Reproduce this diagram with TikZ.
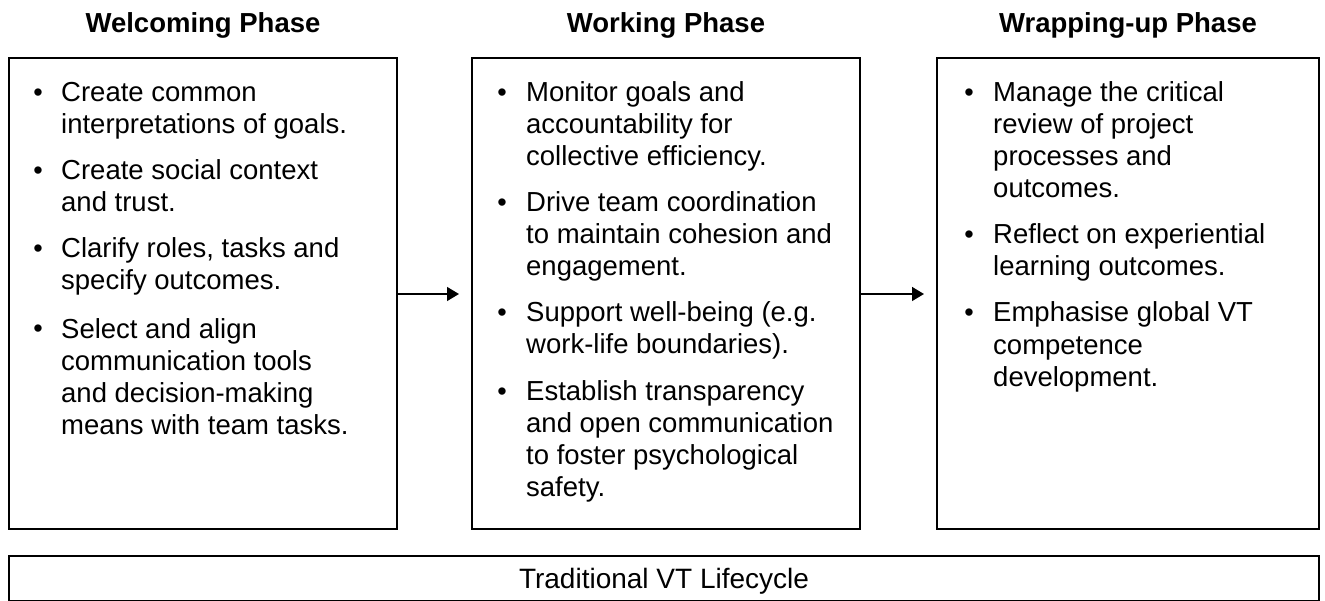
\documentclass[tikz,border=0pt]{standalone}
\usepackage{fontspec}
\setmainfont{Liberation Sans}
\usetikzlibrary{arrows.meta}
\begin{document}
\begin{tikzpicture}[x=1pt,y=-1pt,
  phasebox/.style={draw=black,line width=1.5pt},
  title/.style={font=\fontsize{27.5}{32}\selectfont\bfseries,anchor=base,inner sep=0pt},
  itemtext/.style={font=\fontsize{27.5}{32}\selectfont,anchor=base west,align=left,inner sep=0pt},
  bul/.style={font=\fontsize{27}{32}\selectfont,anchor=base,inner sep=0pt},
  flow/.style={line width=1.5pt,-{Triangle[length=12pt,width=14pt]}}]
\useasboundingbox (0,0) rectangle (1325,601);
% titles
\node[title] (t1) at (203,33) {Welcoming Phase};
\node[title] (t2) at (666,33) {Working Phase};
\node[title] (t3) at (1128,33) {Wrapping-up Phase};
% boxes
\draw[phasebox] (9,58) rectangle (397,529);
\draw[phasebox] (472,58) rectangle (860,529);
\draw[phasebox] (937,58) rectangle (1319,529);
\coordinate (b1e) at (397,294);
\coordinate (b2w) at (472,294);
\coordinate (b2e) at (860,294);
\coordinate (b3w) at (937,294);
\draw[flow] (b1e) -- ([xshift=-13pt]b2w);
\draw[flow] (b2e) -- ([xshift=-13pt]b3w);
% box 1 (base = last line's baseline)
\node[bul] (p1) at (38,102) {•};
\node[itemtext] (w1) at (61,134) {Create common\\interpretations of goals.};
\node[bul] (p2) at (38,180) {•};
\node[itemtext] (w2) at (61,212) {Create social context\\and trust.};
\node[bul] (p3) at (38,258) {•};
\node[itemtext] (w3) at (61,290) {Clarify roles, tasks and\\specify outcomes.};
\node[bul] (p4) at (38,338) {•};
\node[itemtext] (w4) at (61,434) {Select and align\\communication tools\\and decision-making\\means with team tasks.};
% box 2
\node[bul] (q1) at (502,102) {•};
\node[itemtext] (k1) at (526,166) {Monitor goals and\\accountability for\\collective efficiency.};
\node[bul] (q2) at (502,212) {•};
\node[itemtext] (k2) at (526,276) {Drive team coordination\\to maintain cohesion and\\engagement.};
\node[bul] (q3) at (502,322) {•};
\node[itemtext] (k3) at (526,354) {Support well-being (e.g.\\work-life boundaries).};
\node[bul] (q4) at (502,400) {•};
\node[itemtext] (k4) at (526,496) {Establish transparency\\and open communication\\to foster psychological\\safety.};
% box 3
\node[bul] (r1) at (969,102) {•};
\node[itemtext] (u1) at (993,198) {Manage the critical\\review of project\\processes and\\outcomes.};
\node[bul] (r2) at (969,244) {•};
\node[itemtext] (u2) at (993,276) {Reflect on experiential\\learning outcomes.};
\node[bul] (r3) at (969,322) {•};
\node[itemtext] (u3) at (993,386) {Emphasise global VT\\competence\\development.};
% bottom
\draw[phasebox] (9,556) rectangle (1319,601);
\node[font=\fontsize{28}{32}\selectfont,anchor=base,inner sep=0pt] (life) at (664,588) {Traditional VT Lifecycle};
\end{tikzpicture}
\end{document}
